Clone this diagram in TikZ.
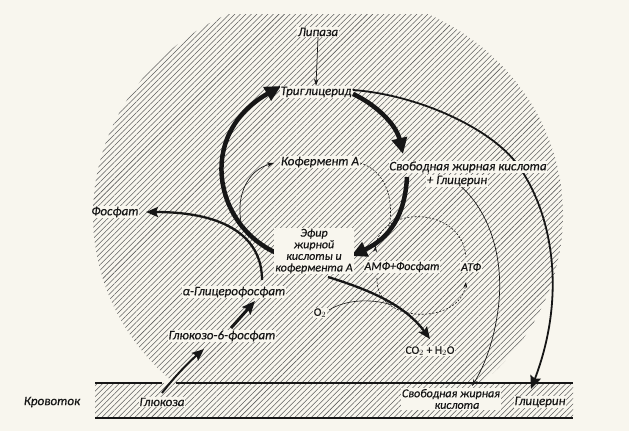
\documentclass[tikz,border=0pt]{standalone}
\usepackage{fontspec}
\setmainfont{Carlito}
\newfontfamily\lblfont[FakeBold=0.5]{Carlito}
\usetikzlibrary{arrows.meta,patterns.meta}
\definecolor{paper}{RGB}{248,246,238}
\definecolor{ink}{RGB}{22,22,22}
\definecolor{hatch}{RGB}{95,95,95}
\begin{document}
\begin{tikzpicture}[x=1pt,y=-1pt,
  lbl/.style={fill=paper,inner sep=0.8pt,text=ink,font=\lblfont\fontsize{13}{12}\selectfont\itshape},
  lblsm/.style={lbl,font=\lblfont\fontsize{12}{11.6}\selectfont\itshape},
  chem/.style={fill=paper,inner sep=0.8pt,text=ink,font=\lblfont\fontsize{11.5}{11}\selectfont},
  hatchfill/.style={pattern={Lines[angle=45,distance=3.9pt,line width=0.55pt]},pattern color=hatch},
  thinarr/.style={draw=ink,line width=0.7pt,-{Stealth[length=7pt,width=4.5pt]}},
  thinline/.style={draw=ink,line width=0.6pt},
  dashline/.style={draw=ink,line width=0.6pt,dash pattern=on 2pt off 1.6pt},
  medarr/.style={draw=ink,line width=2pt,-{Stealth[length=12pt,width=10pt,inset=2pt]}},
  thickarr/.style={draw=ink,line width=4.5pt,-{Triangle[length=16pt,width=15pt]}},
  wall/.style={draw=ink,line width=1.7pt}
]
\useasboundingbox[fill=paper] (0,0) rectangle (629,431);

% hatched cell
\begin{scope}
  \clip (0,14) rectangle (629,383);
  \fill[hatchfill] (328,215) ellipse [x radius=235, y radius=222];
\end{scope}

% blood stream strip
\fill[hatchfill] (95,383) rectangle (573,418);
\draw[wall] (95,383) -- (162,383);
\draw[wall] (176,383) -- (573,383);
\draw[wall] (95,418) -- (573,418);

% coordinates for connectors
\coordinate (triE) at (353,90);
\coordinate (triR) at (353,94);
\coordinate (sfaTip) at (403,154);
\coordinate (efL) at (279,254);
\coordinate (triTip) at (281,86);
\coordinate (sfaS) at (407,177);
\coordinate (efTip) at (351,256);
\coordinate (glyTip) at (531,389);
\coordinate (plusS) at (458,184);
\coordinate (sfbTip) at (472,386);
\coordinate (kofFrom) at (241,222);
\coordinate (kofIn) at (274,163);
\coordinate (kofOut) at (360,163);
\coordinate (kofEnd) at (388,232);
\coordinate (amfT) at (375,252);
\coordinate (atfT) at (466,257);
\coordinate (amfB) at (377,278);
\coordinate (atfB) at (466,282);
\coordinate (efB) at (328,277);
\coordinate (co2Tip) at (430,339);
\coordinate (o2E) at (329,310);
\coordinate (o2Join) at (392,305);
\coordinate (agpT) at (262,280);
\coordinate (fosTip) at (146,212);
\coordinate (gluT) at (162,393);
\coordinate (g6pTip) at (204,349);
\coordinate (g6pT) at (231,328);
\coordinate (agpTip) at (255,301);

% long connectors drawn under labels
\draw[draw=ink,line width=1.8pt,-{Stealth[length=13pt,width=11pt,inset=2pt]}]
  (triE) .. controls (420,95) and (495,130) .. (520,168)
         .. controls (555,220) and (565,300) .. (glyTip);
\draw[thinarr] (plusS) .. controls (490,210) and (505,260) .. (498,310)
                       .. controls (494,340) and (485,365) .. (sfbTip);

% coenzyme A loop
\draw[thinarr] (kofFrom) .. controls (236,195) and (248,170) .. (kofIn);
\draw[dashline] (kofOut) .. controls (385,170) and (396,200) .. (kofEnd);

% ATP loop
\draw[dashline,-{Stealth[length=6pt,width=4pt]}] (amfB) .. controls (375,325) and (460,325) .. (atfB);

% oxidation
\draw[thinline] (o2E) .. controls (345,300) and (370,298) .. (o2Join);
\draw[draw=ink,line width=2.3pt,-{Stealth[length=12pt,width=10pt,inset=2pt]}]
  (efB) .. controls (370,290) and (405,305) .. (co2Tip);

% phosphate
\draw[draw=ink,line width=2.3pt,-{Stealth[length=12pt,width=10pt,inset=2pt]}]
  (agpT) .. controls (262,240) and (230,212) .. (fosTip);

% big cycle
\draw[thickarr] (efL) .. controls (215,228) and (195,135) .. (triTip);
\draw[thickarr] (triR) .. controls (375,104) and (396,124) .. (sfaTip);
\draw[thickarr] (sfaS) .. controls (405,215) and (390,238) .. (efTip);

% glucose
\draw[medarr] (gluT) .. controls (175,376) and (190,361) .. (g6pTip);
\draw[draw=ink,line width=3pt,-{Stealth[length=13pt,width=11pt,inset=2pt]}] (g6pT) -- (agpTip);

% labels
\node[lbl] (lip) at (318,32) {Липаза};
\node[lbl] (tri) at (316,92) {Триглицерид};
\node[lbl] (kof) at (320,162) {Кофермент А};
\node[lbl] (sfa) at (468,167) {Свободная жирная кислота};
\node[lbl] (plus) at (457,181) {+ Глицерин};
\node[lbl] (fos) at (115,212) {Фосфат};
\node[lblsm,align=center] (ef) at (314,251) {Эфир\\жирной\\кислоты и\\кофермента А};
\node[lblsm] (amf) at (402,267) {АМФ+Фосфат};
\node[lblsm] (atf) at (471,267) {АТФ};
\node[lbl] (agp) at (234,292) {α-Глицерофосфат};
\node[lbl] (g6p) at (222,336) {Глюкозо-6-фосфат};
\node[chem] (o2) at (320,313) {O$_2$};
\node[chem] (co2) at (430,351) {CO$_2$ + H$_2$O};
\node[lbl] (glu) at (162,402) {Глюкоза};
\node[lbl] (krov) at (52,402) {Кровоток};
\node[lblsm,align=center] (sfb) at (451,399) {Свободная жирная\\\hspace*{12pt}кислота};
\node[lbl] (glyb) at (540,402) {Глицерин};

% ATP top arc, drawn above the label so its tip shows
\draw[dashline,{Stealth[length=6pt,width=4pt,reversed]}-] (amfT) .. controls (380,205) and (462,205) .. (atfT);

% lipase
\draw[thinarr] (lip.south) -- (tri.north);
\end{tikzpicture}
\end{document}
